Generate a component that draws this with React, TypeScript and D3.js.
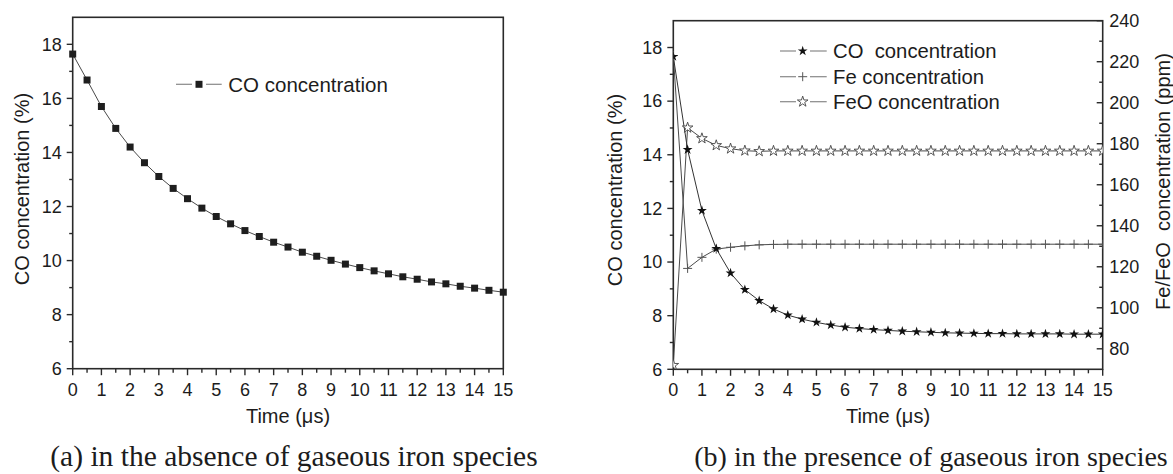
import React from "react";
import * as d3 from "d3";

const time = [0, 0.5, 1, 1.5, 2, 2.5, 3, 3.5, 4, 4.5, 5, 5.5, 6, 6.5, 7, 7.5, 8, 8.5, 9, 9.5, 10, 10.5, 11, 11.5, 12, 12.5, 13, 13.5, 14, 14.5, 15];

// (a) CO concentration (%) without iron species
const coAbsence = [17.64, 16.68, 15.7, 14.89, 14.2, 13.62, 13.11, 12.67, 12.29, 11.94, 11.63, 11.36, 11.11, 10.89, 10.68, 10.5, 10.31, 10.16, 10.01, 9.87, 9.74, 9.62, 9.51, 9.4, 9.31, 9.21, 9.14, 9.05, 8.98, 8.9, 8.83];

// (b) with iron species
const coPresence = [17.66, 14.19, 11.92, 10.5, 9.59, 8.97, 8.56, 8.25, 8.02, 7.87, 7.75, 7.65, 7.57, 7.52, 7.48, 7.45, 7.42, 7.4, 7.38, 7.36, 7.35, 7.34, 7.33, 7.33, 7.32, 7.32, 7.32, 7.32, 7.31, 7.31, 7.31];
const feConc = [223, 119.2, 124.6, 128.6, 129.5, 130.2, 130.7, 130.9, 131.0, 131.0, 131.0, 131.0, 131.0, 131.0, 131.0, 131.0, 131.0, 131.0, 131.0, 131.0, 131.0, 131.0, 131.0, 131.0, 131.0, 131.0, 131.0, 131.0, 131.0, 131.0, 131.0];
const feoConc = [72, 187.8, 182.6, 179.2, 177.6, 176.6, 176.3, 176.5, 176.5, 176.5, 176.5, 176.5, 176.5, 176.5, 176.5, 176.5, 176.5, 176.5, 176.5, 176.5, 176.5, 176.5, 176.5, 176.5, 176.5, 176.5, 176.5, 176.5, 176.5, 176.5, 176.5];

const xTickLabels = [0, 1, 2, 3, 4, 5, 6, 7, 8, 9, 10, 11, 12, 13, 14, 15];
const xMinorTicks = [0.5, 1.5, 2.5, 3.5, 4.5, 5.5, 6.5, 7.5, 8.5, 9.5, 10.5, 11.5, 12.5, 13.5, 14.5];
const yLeftTicks = [6, 8, 10, 12, 14, 16, 18];
const yLeftMinor = [7, 9, 11, 13, 15, 17];
const yRightTicks = [80, 100, 120, 140, 160, 180, 200, 220, 240];
const yRightMinor = [90, 110, 130, 150, 170, 190, 210, 230];

const FONT = "'Liberation Sans', Arial, Helvetica, sans-serif";
const SERIF = "'Liberation Serif', 'Times New Roman', serif";
const TXT = "#1c1c1c";
const AX = "#2a2a2a";
const LINE = "#4a4a4a";

const starD = (r: number) => d3.symbol().type(d3.symbolStar).size((r * r) / 0.8908130915292852)() as string;
const squareD = (s: number) => d3.symbol().type(d3.symbolSquare).size(s * s)() as string;

function Plus({ cx, cy, r }: { cx: number; cy: number; r: number }) {
  return (
    <path d={`M${cx - r},${cy}H${cx + r}M${cx},${cy - r}V${cy + r}`} stroke="#555" strokeWidth={1} fill="none" />
  );
}

function Frame({ x, y, xAxisTitle, yTitle, yTitleX, yTitleY }: any) {
  const [x0, x1] = x.range();
  const [yb, yt] = y.range();
  return (
    <g>
      <rect x={x0} y={yt} width={x1 - x0} height={yb - yt} fill="none" stroke={AX} strokeWidth={1.6} />
      {xTickLabels.map((t) => (
        <g key={"xt" + t}>
          <line x1={x(t)} x2={x(t)} y1={yb} y2={yb + 6.5} stroke={AX} strokeWidth={1.4} />
          <text x={x(t)} y={yb + 27} textAnchor="middle" fontSize={18} fontFamily={FONT} fill={TXT}>{t}</text>
        </g>
      ))}
      {xMinorTicks.map((t) => (
        <line key={"xm" + t} x1={x(t)} x2={x(t)} y1={yb} y2={yb + 4} stroke={AX} strokeWidth={1.4} />
      ))}
      {yLeftTicks.map((t) => (
        <g key={"yt" + t}>
          <line x1={x0 - 6} x2={x0} y1={y(t)} y2={y(t)} stroke={AX} strokeWidth={1.4} />
          <text x={x0 - 11} y={y(t)} dy="0.35em" textAnchor="end" fontSize={18} fontFamily={FONT} fill={TXT}>{t}</text>
        </g>
      ))}
      {yLeftMinor.map((t) => (
        <line key={"ym" + t} x1={x0 - 3.5} x2={x0} y1={y(t)} y2={y(t)} stroke={AX} strokeWidth={1.4} />
      ))}
      <text x={(x0 + x1) / 2} y={yb + 54} textAnchor="middle" fontSize={20} fontFamily={FONT} fill={TXT}>{xAxisTitle}</text>
      <text transform={`translate(${yTitleX},${yTitleY}) rotate(-90)`} textAnchor="middle" fontSize={20} fontFamily={FONT} fill={TXT}>{yTitle}</text>
    </g>
  );
}

export default function App() {
  // panel (a)
  const xA = d3.scaleLinear().domain([0, 15]).range([72.7, 503.3]);
  const yA = d3.scaleLinear().domain([6, 19]).range([368.7, 17.3]);
  // panel (b)
  const xB = d3.scaleLinear().domain([0, 15]).range([673.3, 1102.7]);
  const yB = d3.scaleLinear().domain([6, 19]).range([369.3, 20.7]);
  const yR = d3.scaleLinear().domain([70, 240]).range([369.3, 20.7]);

  const lineA = d3.line<number>().x((_, i) => xA(time[i])).y((d) => yA(d));
  const lineBCO = d3.line<number>().x((_, i) => xB(time[i])).y((d) => yB(d));
  const lineBR = d3.line<number>().x((_, i) => xB(time[i])).y((d) => yR(d));

  const sq = squareD(7);
  const starFilled = starD(5.2);
  const starOpen = starD(5.6);

  return (
    <svg width={1173} height={474} style={{ position: "absolute", left: 0, top: 0, background: "#fff" }}>
      <defs>
        <clipPath id="clipB">
          <rect x={673.3} y={20.7} width={429.4} height={348.6} />
        </clipPath>
      </defs>
      <rect x={0} y={0} width={1173} height={474} fill="#fff" />

      {/* Panel (a) */}
      <Frame x={xA} y={yA} xAxisTitle="Time (μs)" yTitle="CO concentration (%)" yTitleX={29} yTitleY={189} />
      <path d={lineA(coAbsence) as string} fill="none" stroke={LINE} strokeWidth={1} />
      {coAbsence.map((v, i) => (
        <path key={"a" + i} d={sq} transform={`translate(${xA(time[i])},${yA(v)})`} fill="#1e1e1e" />
      ))}
      {/* legend (a) */}
      <line x1={176} x2={192} y1={84.3} y2={84.3} stroke="#888" strokeWidth={1.2} />
      <line x1={206} x2={221.7} y1={84.3} y2={84.3} stroke="#888" strokeWidth={1.2} />
      <path d={sq} transform="translate(199,84.3)" fill="#1e1e1e" />
      <text x={228.3} y={91.5} fontSize={20.5} fontFamily={FONT} fill={TXT}>CO concentration</text>

      {/* Panel (b) */}
      <Frame x={xB} y={yB} xAxisTitle="Time (μs)" yTitle="CO concentration (%)" yTitleX={622} yTitleY={190} />
      {/* right axis */}
      {yRightTicks.map((t) => (
        <g key={"yr" + t}>
          <line x1={1102.7 - 6} x2={1102.7} y1={yR(t)} y2={yR(t)} stroke={AX} strokeWidth={1.4} />
          <text x={1109.3} y={yR(t)} dy="0.35em" textAnchor="start" fontSize={18} fontFamily={FONT} fill={TXT}>{t}</text>
        </g>
      ))}
      {yRightMinor.map((t) => (
        <line key={"yrm" + t} x1={1102.7 - 3.5} x2={1102.7} y1={yR(t)} y2={yR(t)} stroke={AX} strokeWidth={1.4} />
      ))}
      <text transform="translate(1170,181.5) rotate(-90)" textAnchor="middle" fontSize={20} fontFamily={FONT} fill={TXT} style={{ whiteSpace: "pre" }}>Fe/FeO  concentration (ppm)</text>

      <g clipPath="url(#clipB)">
        <path d={lineBR(feoConc) as string} fill="none" stroke={LINE} strokeWidth={1} />
        <path d={lineBR(feConc) as string} fill="none" stroke={LINE} strokeWidth={1} />
        <path d={lineBCO(coPresence) as string} fill="none" stroke="#333" strokeWidth={1} />
        {feoConc.map((v, i) => (
          <path key={"feo" + i} d={starOpen} transform={`translate(${xB(time[i])},${yR(v)})`} fill="#fff" stroke="#444" strokeWidth={0.9} />
        ))}
        {feConc.map((v, i) => (
          <Plus key={"fe" + i} cx={xB(time[i])} cy={yR(v)} r={4.5} />
        ))}
        {coPresence.map((v, i) => (
          <path key={"co" + i} d={starFilled} transform={`translate(${xB(time[i])},${yB(v)})`} fill="#111" />
        ))}
      </g>

      {/* legend (b) */}
      <line x1={780} x2={796} y1={51} y2={51} stroke="#888" strokeWidth={1.2} />
      <line x1={810} x2={826.7} y1={51} y2={51} stroke="#888" strokeWidth={1.2} />
      <path d={starFilled} transform="translate(802.7,51)" fill="#111" />
      <text x={833} y={58.2} fontSize={20.3} fontFamily={FONT} fill={TXT} style={{ whiteSpace: "pre" }}>CO  concentration</text>

      <line x1={780} x2={796} y1={76.7} y2={76.7} stroke="#888" strokeWidth={1.2} />
      <line x1={810} x2={826.7} y1={76.7} y2={76.7} stroke="#888" strokeWidth={1.2} />
      <Plus cx={802.7} cy={76.7} r={4.5} />
      <text x={833} y={83.9} fontSize={20.3} fontFamily={FONT} fill={TXT}>Fe concentration</text>

      <line x1={780} x2={796} y1={101.7} y2={101.7} stroke="#888" strokeWidth={1.2} />
      <line x1={810} x2={826.7} y1={101.7} y2={101.7} stroke="#888" strokeWidth={1.2} />
      <path d={starOpen} transform="translate(802.7,101.7)" fill="#fff" stroke="#444" strokeWidth={0.9} />
      <text x={833} y={108.9} fontSize={20.3} fontFamily={FONT} fill={TXT}>FeO concentration</text>

      {/* captions */}
      <text x={294} y={466} textAnchor="middle" fontSize={29.5} fontFamily={SERIF} fill={TXT}>(a) in the absence of gaseous iron species</text>
      <text x={931} y={466} textAnchor="middle" fontSize={28} fontFamily={SERIF} fill={TXT}>(b) in the presence of gaseous iron species</text>
    </svg>
  );
}
